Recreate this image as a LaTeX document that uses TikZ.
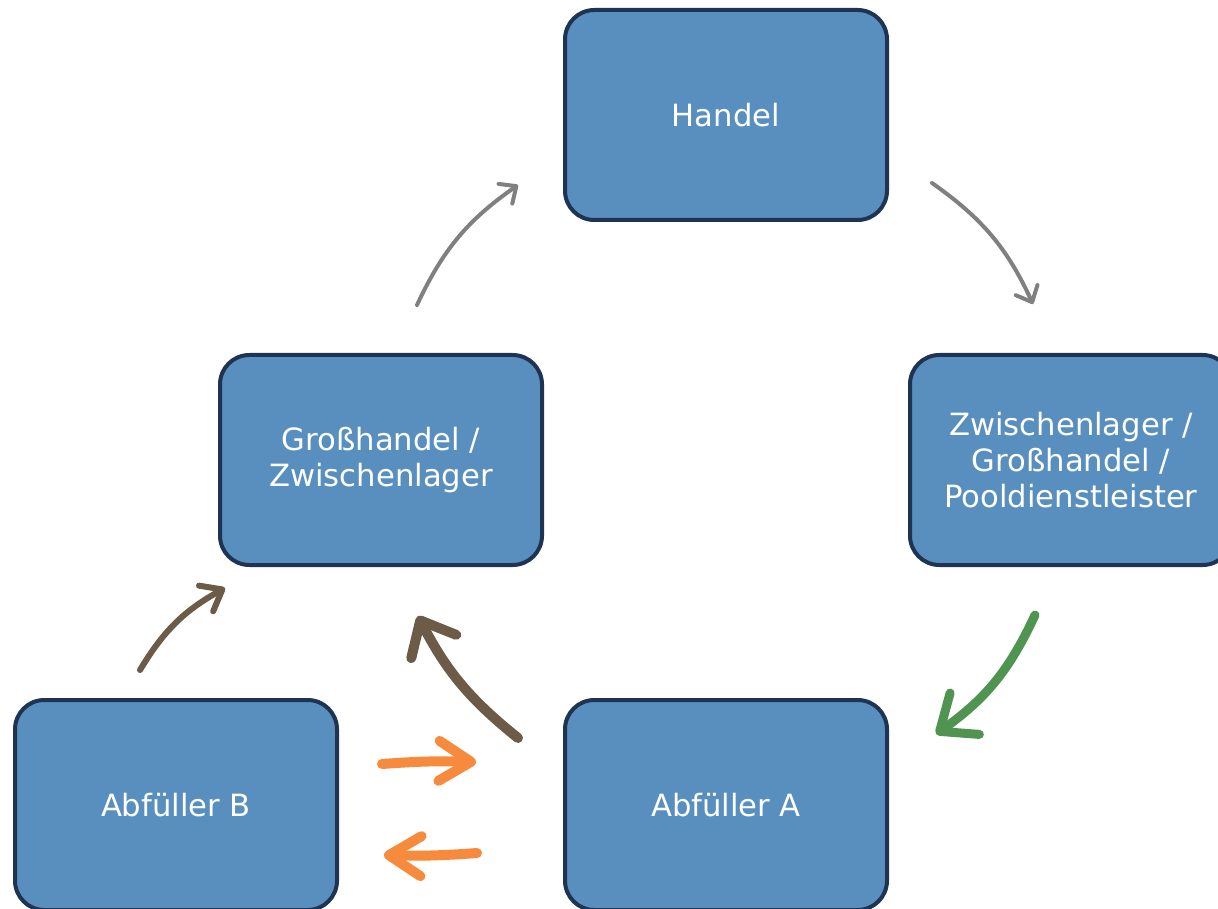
\documentclass[tikz,border=0pt]{standalone}
\usepackage{fontspec}
\setmainfont{DejaVu Sans}
\usetikzlibrary{arrows.meta}
\definecolor{boxfill}{HTML}{588FBE}
\definecolor{boxline}{HTML}{1F3352}
\definecolor{flowgray}{HTML}{808080}
\definecolor{flowgreen}{HTML}{4F9450}
\definecolor{flowbrown}{HTML}{6B5B47}
\definecolor{floworange}{HTML}{F78B3D}
\begin{document}
\begin{tikzpicture}[x=0.75pt,y=-0.75pt,
  stage/.style={draw=boxline,fill=boxfill,line width=3pt,rounded corners=22pt,
    minimum width=241.5pt,minimum height=157.5pt,align=center,text=white,
    font=\fontsize{23pt}{27pt}\selectfont},
  thinflow/.style={draw=flowgray,line width=3pt,line cap=round,
    -{Straight Barb[length=10pt,width=18pt,round]}},
  greenflow/.style={draw=flowgreen,line width=6.75pt,line cap=round,
    -{Straight Barb[length=23pt,width=38pt,round]}},
  bigbrown/.style={draw=flowbrown,line width=7.5pt,line cap=round,
    -{Straight Barb[length=22pt,width=38pt,round]}},
  smallbrown/.style={draw=flowbrown,line width=4.5pt,line cap=round,
    -{Straight Barb[length=14pt,width=22pt,round]}},
  orangeflow/.style={draw=floworange,line width=7.5pt,line cap=round,
    -{Straight Barb[length=24pt,width=30pt,round]}}]
\useasboundingbox (0,0) rectangle (1218,909);
\clip (0,0) rectangle (1218,909);
% the five stages
\node[stage] (handel) at (726,115) {Handel};
\node[stage] (gross) at (381,460) {Großhandel /\\Zwischenlager};
\node[stage] (pool) at (1071,460) {Zwischenlager /\\Großhandel /\\Pooldienstleister};
\node[stage] (fillB) at (176,805) {Abfüller B};
\node[stage] (fillA) at (726,805) {Abfüller A};
% loose ends of the flow arrows
\coordinate (g1s) at (417,305);  \coordinate (g1e) at (518,185);
\coordinate (g2s) at (932,183);  \coordinate (g2e) at (1033,304);
\coordinate (grs) at (1035,615); \coordinate (gre) at (936,734);
\coordinate (bbs) at (518,738);  \coordinate (bbe) at (418,616);
\coordinate (sbs) at (140,670);  \coordinate (sbe) at (225,588);
\coordinate (o1s) at (382,764);  \coordinate (o1e) at (476,762);
\coordinate (o2s) at (477,853);  \coordinate (o2e) at (384,855);
% flows
\draw[thinflow] (g1s) to[bend left=15] (g1e);
\draw[thinflow] (g2s) to[bend left=15] (g2e);
\draw[greenflow] (grs) to[bend left=15] (gre);
\draw[bigbrown] (bbs) to[bend left=12] (bbe);
\draw[smallbrown] (sbs) to[bend left=15] (sbe);
\draw[orangeflow] (o1s) to[bend left=3] (o1e);
\draw[orangeflow] (o2s) to[bend left=3] (o2e);
\end{tikzpicture}
\end{document}
